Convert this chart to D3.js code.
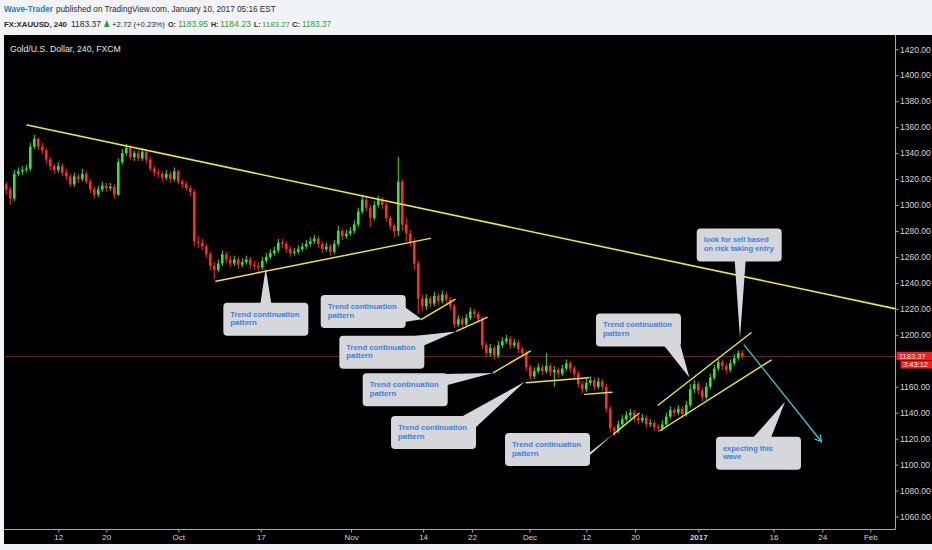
<!DOCTYPE html>
<html><head><meta charset="utf-8">
<script src="https://cdn.jsdelivr.net/npm/d3@7"></script>
<style>
html,body{margin:0;padding:0;background:#f1f3f6;}
svg{display:block;}
</style></head><body>
<svg id="c" width="932" height="550"></svg>
<script>
// ---- DATA (4h-style candles sampled twice per trading day) ----
const firstOpen = 1316;
const closes = [
1312,1305,1324,1326,1327,1328,1345,1351,1345,1342,
1335,1330,1327,1330,1325,1322,1316,1322,1320,1324,
1318,1312,1308,1312,1315,1313,1314,1308,1333,1340,
1344,1337,1340,1336,1341,1335,1328,1325,1324,1321,
1324,1320,1326,1318,1316,1313,1310,1272,1271,1268,
1262,1253,1250,1255,1262,1258,1255,1258,1254,1256,
1258,1254,1253,1252,1257,1260,1263,1265,1271,1270,
1266,1263,1264,1266,1268,1270,1272,1274,1270,1266,
1268,1264,1270,1280,1276,1278,1280,1285,1295,1304,
1298,1290,1300,1304,1300,1290,1284,1280,1318,1285,
1278,1272,1255,1228,1222,1228,1224,1230,1226,1231,
1227,1222,1208,1212,1208,1213,1218,1216,1212,1192,
1186,1190,1184,1192,1195,1197,1192,1194,1189,1186,
1175,1168,1172,1175,1172,1176,1171,1173,1170,1174,
1178,1174,1170,1162,1158,1163,1165,1160,1164,1160,
1143,1128,1126,1131,1135,1138,1140,1136,1134,1136,
1131,1132,1129,1128,1131,1137,1142,1140,1143,1139,
1146,1158,1162,1157,1152,1160,1167,1174,1179,1176,
1173,1178,1182,1186,1183.37];
const highs = [
1318,1314,1327,1329,1330,1331,1348,1354,1352,1348,
1344,1337,1332,1333,1332,1328,1324,1325,1324,1328,
1326,1320,1314,1315,1318,1317,1317,1316,1336,1343,
1347,1346,1342,1342,1344,1343,1337,1330,1328,1326,
1327,1326,1329,1327,1320,1318,1315,1312,1276,1274,
1270,1264,1256,1258,1265,1264,1261,1261,1260,1259,
1261,1260,1257,1256,1260,1263,1266,1268,1274,1274,
1272,1268,1267,1269,1271,1273,1275,1277,1276,1272,
1271,1270,1273,1284,1282,1281,1283,1288,1298,1308,
1306,1300,1303,1307,1306,1302,1292,1286,1337,1320,
1290,1281,1274,1257,1231,1231,1230,1233,1232,1234,
1233,1229,1224,1215,1214,1216,1221,1220,1218,1214,
1194,1193,1192,1195,1198,1200,1199,1197,1196,1191,
1188,1177,1175,1178,1177,1186,1178,1176,1175,1177,
1181,1180,1176,1172,1164,1166,1168,1167,1167,1166,
1162,1145,1130,1134,1138,1141,1143,1142,1138,1139,
1138,1135,1134,1131,1134,1140,1145,1144,1146,1145,
1149,1162,1165,1164,1159,1163,1170,1177,1182,1181,
1178,1181,1185,1188,1188];
const lows = [
1308,1300,1303,1322,1323,1325,1326,1343,1342,1339,
1332,1327,1324,1325,1322,1319,1314,1314,1317,1318,
1316,1309,1305,1306,1310,1310,1311,1305,1307,1331,
1338,1335,1334,1334,1334,1332,1326,1322,1321,1318,
1319,1317,1318,1316,1313,1311,1307,1268,1267,1265,
1259,1250,1243,1248,1253,1255,1252,1253,1251,1252,
1254,1251,1250,1249,1250,1255,1258,1261,1263,1267,
1263,1260,1261,1262,1264,1266,1268,1270,1267,1263,
1264,1261,1262,1268,1273,1274,1276,1278,1283,1293,
1295,1283,1288,1298,1297,1287,1281,1275,1276,1280,
1272,1268,1250,1216,1218,1219,1221,1222,1223,1224,
1224,1219,1205,1206,1205,1206,1211,1213,1209,1189,
1183,1183,1181,1182,1190,1193,1189,1190,1186,1183,
1172,1165,1166,1170,1169,1170,1168,1160,1167,1168,
1172,1171,1167,1159,1155,1156,1161,1157,1158,1157,
1140,1125,1122,1124,1129,1133,1135,1133,1131,1132,
1128,1129,1126,1125,1126,1129,1135,1137,1138,1136,
1137,1144,1155,1154,1149,1150,1158,1165,1172,1173,
1170,1171,1176,1180,1181];
const barStart = -6.5;   // trading-day index of first candle (0 = Sep 12)
const barStep = 0.5;     // two candles per trading day

const yTickValues = [1060,1080,1100,1120,1140,1160,1180,1200,1220,1240,1260,1280,1300,1320,1340,1360,1380,1400,1420];
const xTickLabels = ["12","20","Oct","17","Nov","14","22","Dec","12","20","2017","16","24","Feb"];
const xTickPos    = [0, 6, 15, 25.3, 36.6, 45.6, 51.7, 58.9, 66, 72.1, 80, 89.4, 95.5, 101.5];

const lastPrice = 1183.37;
const countdown = "3:43:12";

// trend lines: [[dayIndex, price],[dayIndex, price]]
const mainTrend = [[-3.9, 1361.7], [104.7, 1220]];
const supportLine = [[19.7, 1241.3], [46.5, 1274.3]];
const patternLines = [
  [[45.4, 1211.9], [49.6, 1227.3]],
  [[49.8, 1202.9], [53.6, 1213.4]],
  [[54.4, 1170.8], [59.0, 1187.5]],
  [[58.5, 1163.1], [66.3, 1166.9]],
  [[65.8, 1154.1], [69.2, 1155.7]],
  [[69.4, 1123.5], [72.6, 1139.5]]
];
const channelUpper = [[75.0, 1145.9], [86.6, 1201.6]];
const channelLower = [[75.2, 1126.1], [89.1, 1180.5]];
const forecastArrow = [[85.75, 1192.1], [95.4, 1117.6]];

// callouts: box anchor (top-left) and pointer tip in data coordinates
const calloutTexts = [
  ["Trend continuation","pattern"],
  ["Trend continuation","pattern"],
  ["Trend continuation","pattern"],
  ["Trend continuation","pattern"],
  ["Trend continuation","pattern"],
  ["Trend continuation","pattern"],
  ["Trend continuation","pattern"],
  ["look for sell based","on risk taking entry"],
  ["expecting this","wave"]
];
const calloutAnchor = [[20.63,1224.7],[32.8,1230.6],[35.13,1199.3],[38.05,1170.3],[41.59,1137.4],[55.84,1124.3],[67.21,1216.5],[79.8,1282],[82.21,1121.4]];
const calloutTip    = [[25.93,1251.2],[45.43,1211.9],[49.7,1202.6],[54.3,1170.6],[58.3,1163.8],[69.38,1123.5],[78.88,1167.2],[85.21,1197.3],[90.84,1148.4]];

// ---- LAYOUT ----
const W = 932, H = 550;
const plotL = 4, plotT = 35, plotR = 895.5, plotB = 529.5;
const svg = d3.select("#c");
const x = d3.scaleLinear().domain([0, 100]).range([58.3, 858.3]);
const y = d3.scaleLinear().domain([1060, 1420]).range([516.5, 49.3]);

// fit a text into a width by shrinking its font size (no stretching)
function fitText(sel, w, base) {
  const node = sel.node();
  sel.attr("font-size", base);
  const len = node.getComputedTextLength();
  if (len > w) sel.attr("font-size", base * w / len);
  return sel;
}

svg.append("rect").attr("width", W).attr("height", H).attr("fill", "#f1f3f6");
svg.append("rect").attr("x", plotL).attr("y", plotT).attr("width", W - plotL).attr("height", 544 - plotT).attr("fill", "#000");

svg.append("clipPath").attr("id", "clip").append("rect")
  .attr("x", plotL).attr("y", plotT).attr("width", plotR - plotL).attr("height", plotB - plotT);
const plot = svg.append("g").attr("clip-path", "url(#clip)");

// current price line
plot.append("line").attr("x1", plotL).attr("x2", plotR)
  .attr("y1", y(lastPrice)).attr("y2", y(lastPrice))
  .attr("stroke", "#8c1616").attr("stroke-width", 1);

// candles
const candles = closes.map((c, i) => ({
  idx: barStart + i * barStep,
  o: i === 0 ? firstOpen : closes[i - 1],
  c, h: highs[i], l: lows[i]
}));
const up = "#33e633", dn = "#ff2a2a";
const cg = plot.append("g");
cg.selectAll("line.w").data(candles).join("line")
  .attr("x1", d => x(d.idx)).attr("x2", d => x(d.idx))
  .attr("y1", d => y(d.h)).attr("y2", d => y(d.l))
  .attr("stroke", d => d.c >= d.o ? up : dn).attr("stroke-width", 1);
cg.selectAll("rect.b").data(candles).join("rect")
  .attr("x", d => x(d.idx) - 1.3).attr("width", 2.6)
  .attr("y", d => y(Math.max(d.o, d.c)))
  .attr("height", d => Math.max(1, Math.abs(y(d.o) - y(d.c))))
  .attr("fill", d => d.c >= d.o ? up : dn);

// trend lines
const yellow = "#e9e93c";
const drawSeg = (seg, col, w) => plot.append("line")
  .attr("x1", x(seg[0][0])).attr("y1", y(seg[0][1]))
  .attr("x2", x(seg[1][0])).attr("y2", y(seg[1][1]))
  .attr("stroke", col).attr("stroke-width", w).attr("stroke-linecap", "round");
drawSeg(mainTrend, yellow, 1.6);
drawSeg(supportLine, yellow, 1.5);
patternLines.forEach(s => drawSeg(s, yellow, 1.4));
drawSeg(channelUpper, yellow, 1.4);
drawSeg(channelLower, yellow, 1.4);

// forecast arrow
const cyan = "#3cc6dc";
drawSeg(forecastArrow, cyan, 1.3);
{
  const x1 = x(forecastArrow[0][0]), y1 = y(forecastArrow[0][1]);
  const x2 = x(forecastArrow[1][0]), y2 = y(forecastArrow[1][1]);
  const a = Math.atan2(y2 - y1, x2 - x1), L = 7, s = 0.5;
  [a + Math.PI - s, a + Math.PI + s].forEach(b => {
    plot.append("line").attr("x1", x2).attr("y1", y2)
      .attr("x2", x2 + L * Math.cos(b)).attr("y2", y2 + L * Math.sin(b))
      .attr("stroke", cyan).attr("stroke-width", 1.3).attr("stroke-linecap", "round");
  });
}

// callouts
const boxW = 85, boxH = 33;
const pointerBase = [
  [[37,1],[48,1]],
  [[84,12],[84,27]],
  [[68,1],[84,10]],
  [[70,1],[84,12]],
  [[70,1],[84,12]],
  [[74,32],[84,20]],
  [[68,32],[84,30]],
  [[38,32],[49,32]],
  [[37,1],[55,1]]
];
const boxFill = "#d5d7db", txtCol = "#3f7fdf";
const textWidths = {"Trend continuation":69,"pattern":26.5,"look for sell based":65,"on risk taking entry":70,"expecting this":50,"wave":18.5};
const ag = svg.append("g");
calloutTexts.forEach((t, i) => {
  const bx = x(calloutAnchor[i][0]), by = y(calloutAnchor[i][1]);
  const tx = x(calloutTip[i][0]), ty = y(calloutTip[i][1]);
  const pb = pointerBase[i];
  ag.append("polygon")
    .attr("points", [[bx + pb[0][0], by + pb[0][1]], [bx + pb[1][0], by + pb[1][1]], [tx, ty]].map(p => p.join(",")).join(" "))
    .attr("fill", boxFill);
  ag.append("rect").attr("x", bx).attr("y", by).attr("width", boxW).attr("height", boxH)
    .attr("rx", 4).attr("fill", boxFill);
  t.forEach((line, k) => {
    const el = ag.append("text").attr("x", bx + 7).attr("y", by + 13.8 + k * 8.8)
      .attr("fill", txtCol).attr("font-family", "'Liberation Sans Narrow','Liberation Sans',Arial,sans-serif")
      .attr("font-size", 7.6).attr("font-weight", "bold").text(line);
    if (textWidths[line]) el.attr("textLength", textWidths[line]).attr("lengthAdjust", "spacingAndGlyphs");
  });
});

// axes
const axCol = "#a8a8a8", lblCol = "#d6d6d6";
svg.append("line").attr("x1", plotR).attr("x2", plotR).attr("y1", plotT).attr("y2", plotB).attr("stroke", axCol);
svg.append("line").attr("x1", plotL).attr("x2", plotR).attr("y1", plotB).attr("y2", plotB).attr("stroke", axCol);

const ly = y(lastPrice);
const yAx = svg.append("g").attr("transform", `translate(${plotR},0)`)
  .call(d3.axisRight(y).tickValues(yTickValues).tickFormat(d3.format(".2f")).tickSize(3).tickPadding(1.5));
yAx.select(".domain").remove();
yAx.selectAll("line").attr("stroke", axCol);
yAx.selectAll("text").attr("fill", lblCol).attr("font-size", 8.5).attr("font-family", "'Liberation Sans',Arial,sans-serif");
// label hidden behind the last-price tag, as on the original chart
yAx.selectAll(".tick").filter(d => Math.abs(y(d) - ly) < 12).remove();

const xAx = svg.append("g").attr("transform", `translate(0,${plotB})`)
  .call(d3.axisBottom(x).tickValues(xTickPos).tickFormat((d, i) => xTickLabels[i]).tickSize(3).tickPadding(2));
xAx.select(".domain").remove();
xAx.selectAll("line").attr("stroke", axCol);
xAx.selectAll("text").attr("fill", lblCol).attr("font-size", 8).attr("font-family", "'Liberation Sans',Arial,sans-serif")
  .attr("font-weight", (d, i) => xTickLabels[i] === "2017" ? "bold" : "normal");

// last price labels
svg.append("rect").attr("x", 896.5).attr("y", ly - 4.6).attr("width", 36).attr("height", 8.6).attr("fill", "#f01e1e");
svg.append("text").attr("x", 899).attr("y", ly + 2.6).attr("fill", "#fff").attr("font-size", 7.5)
  .attr("font-family", "'Liberation Sans',Arial,sans-serif").text(d3.format(".2f")(lastPrice));
svg.append("rect").attr("x", 900.5).attr("y", ly + 4.4).attr("width", 32).attr("height", 7.8).attr("fill", "#f01e1e");
svg.append("text").attr("x", 903).attr("y", ly + 11).attr("fill", "#fff").attr("font-size", 7.5)
  .attr("font-family", "'Liberation Sans',Arial,sans-serif").text(countdown);

// chart title
fitText(svg.append("text").attr("x", 10).attr("y", 51.5).attr("fill", "#e6e6e6")
  .attr("font-family", "'Liberation Sans Narrow','Liberation Sans',Arial,sans-serif")
  .text("Gold/U.S. Dollar, 240, FXCM"), 111, 10);

// header
const green = "#2aa52a", dark = "#2b2b2b";
const headerSegs = [
  {t:"Wave-Trader", x:4, w:49, y:12, c:"#2c7cc3", b:true},
  {t:"published on TradingView.com, January 10, 2017 05:16 EST", x:56, w:220, y:12, c:dark},
  {t:"FX:XAUUSD, 240", x:4, w:63, y:27, c:dark, b:true},
  {t:"1183.37", x:71, w:30, y:27, c:dark},
  {t:"+2.72 (+0.23%)", x:112, w:53, y:27, c:dark},
  {t:"O:", x:168, w:8, y:27, c:dark, b:true},
  {t:"1183.95", x:178, w:30, y:27, c:green},
  {t:"H:", x:211, w:7.5, y:27, c:dark, b:true},
  {t:"1184.23", x:220, w:31, y:27, c:green},
  {t:"L:", x:254, w:6.5, y:27, c:dark, b:true},
  {t:"1183.27", x:262, w:28, y:27, c:green},
  {t:"C:", x:292, w:8, y:27, c:dark, b:true},
  {t:"1183.37", x:302, w:29, y:27, c:green}
];
headerSegs.forEach(s => {
  fitText(svg.append("text").attr("x", s.x).attr("y", s.y).attr("fill", s.c)
    .attr("font-family", "'Liberation Sans Narrow','Liberation Sans',Arial,sans-serif")
    .attr("font-weight", s.b ? "bold" : "normal").text(s.t), s.w, 10);
});
svg.append("polygon").attr("points", "104,27 106.8,20 109.6,27").attr("fill", green);
</script>
</body></html>
